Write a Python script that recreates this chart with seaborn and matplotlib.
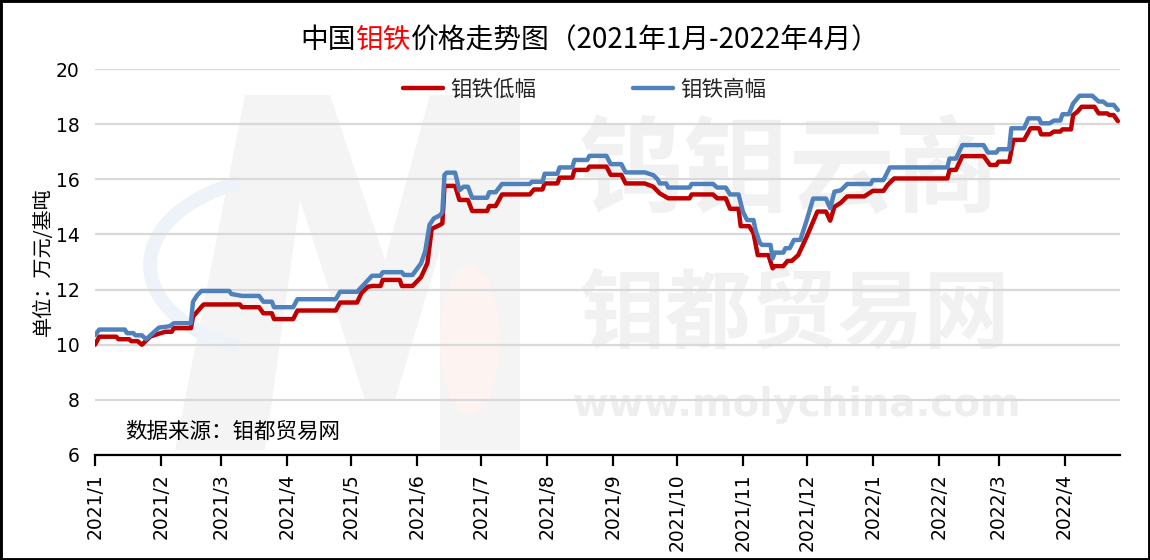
import matplotlib
matplotlib.use("Agg")
import matplotlib.pyplot as plt
import matplotlib.dates as mdates
from matplotlib.ticker import FuncFormatter
from matplotlib.patches import Rectangle, Polygon, Ellipse, Arc
import pandas as pd
import seaborn as sns

# ---------------- data ----------------
low_dates = [
    "2021-01-01", "2021-01-03", "2021-01-11", "2021-01-12", "2021-01-17", "2021-01-18",
    "2021-01-21", "2021-01-23", "2021-01-27", "2021-01-31", "2021-02-03", "2021-02-06",
    "2021-02-07", "2021-02-15", "2021-02-16", "2021-02-18", "2021-02-20", "2021-02-21",
    "2021-03-10", "2021-03-11", "2021-03-19", "2021-03-21", "2021-03-25", "2021-03-26",
    "2021-04-04", "2021-04-06", "2021-04-24", "2021-04-26", "2021-05-04", "2021-05-06",
    "2021-05-09", "2021-05-11", "2021-05-15", "2021-05-16", "2021-05-24", "2021-05-25",
    "2021-05-30", "2021-06-03", "2021-06-06", "2021-06-08", "2021-06-12", "2021-06-13",
    "2021-06-14", "2021-06-19", "2021-06-21", "2021-06-25", "2021-06-27", "2021-07-04",
    "2021-07-05", "2021-07-08", "2021-07-11", "2021-07-24", "2021-07-26", "2021-07-30",
    "2021-07-31", "2021-08-06", "2021-08-07", "2021-08-13", "2021-08-14", "2021-08-20",
    "2021-08-21", "2021-08-29", "2021-08-31", "2021-09-05", "2021-09-07", "2021-09-16",
    "2021-09-20", "2021-09-23", "2021-09-27", "2021-10-07", "2021-10-08", "2021-10-18",
    "2021-10-20", "2021-10-24", "2021-10-26", "2021-10-30", "2021-10-31", "2021-11-04",
    "2021-11-06", "2021-11-08", "2021-11-13", "2021-11-15", "2021-11-16", "2021-11-20",
    "2021-11-22", "2021-11-24", "2021-11-27", "2021-12-01", "2021-12-06", "2021-12-10",
    "2021-12-12", "2021-12-14", "2021-12-17", "2021-12-20", "2021-12-28", "2022-01-01",
    "2022-01-06", "2022-01-08", "2022-01-11", "2022-02-05", "2022-02-06", "2022-02-09",
    "2022-02-12", "2022-02-22", "2022-02-25", "2022-02-28", "2022-03-01", "2022-03-06",
    "2022-03-08", "2022-03-13", "2022-03-16", "2022-03-20", "2022-03-21", "2022-03-25",
    "2022-03-27", "2022-03-30", "2022-03-31", "2022-04-04", "2022-04-05", "2022-04-07",
    "2022-04-09", "2022-04-15", "2022-04-17", "2022-04-21", "2022-04-22", "2022-04-24",
    "2022-04-26",
]
low_vals = [
    10.00, 10.29, 10.29, 10.20, 10.20, 10.13,
    10.13, 10.00, 10.30, 10.40, 10.47, 10.47,
    10.60, 10.60, 11.02, 11.20, 11.38, 11.46,
    11.46, 11.36, 11.36, 11.14, 11.14, 10.93,
    10.93, 11.24, 11.24, 11.53, 11.53, 11.87,
    12.10, 12.13, 12.13, 12.35, 12.35, 12.13,
    12.13, 12.45, 12.96, 14.20, 14.35, 14.40,
    15.76, 15.76, 15.25, 15.25, 14.85, 14.85,
    15.03, 15.03, 15.45, 15.45, 15.63, 15.63,
    15.85, 15.85, 16.06, 16.06, 16.34, 16.34,
    16.46, 16.46, 16.16, 16.16, 15.85, 15.85,
    15.73, 15.49, 15.31, 15.31, 15.45, 15.45,
    15.31, 15.31, 14.93, 14.93, 14.30, 14.30,
    14.05, 13.25, 13.25, 12.77, 12.85, 12.85,
    13.04, 13.04, 13.25, 13.92, 14.83, 14.83,
    14.50, 15.00, 15.15, 15.38, 15.38, 15.58,
    15.58, 15.80, 16.03, 16.03, 16.34, 16.34,
    16.84, 16.84, 16.52, 16.52, 16.64, 16.64,
    17.43, 17.43, 17.85, 17.85, 17.63, 17.63,
    17.73, 17.73, 17.81, 17.81, 18.33, 18.45,
    18.63, 18.63, 18.39, 18.39, 18.33, 18.33,
    18.11,
]

high_dates = [
    "2021-01-01", "2021-01-03", "2021-01-15", "2021-01-16", "2021-01-19", "2021-01-20",
    "2021-01-23", "2021-01-25", "2021-01-31", "2021-02-05", "2021-02-07", "2021-02-15",
    "2021-02-16", "2021-02-18", "2021-02-20", "2021-03-05", "2021-03-06", "2021-03-11",
    "2021-03-19", "2021-03-21", "2021-03-25", "2021-03-26", "2021-04-04", "2021-04-06",
    "2021-04-24", "2021-04-26", "2021-05-04", "2021-05-11", "2021-05-15", "2021-05-16",
    "2021-05-25", "2021-05-26", "2021-05-30", "2021-06-03", "2021-06-05", "2021-06-07",
    "2021-06-09", "2021-06-12", "2021-06-13", "2021-06-14", "2021-06-15", "2021-06-19",
    "2021-06-21", "2021-06-23", "2021-06-25", "2021-06-27", "2021-07-04", "2021-07-05",
    "2021-07-08", "2021-07-11", "2021-07-24", "2021-07-25", "2021-07-30", "2021-07-31",
    "2021-08-06", "2021-08-07", "2021-08-13", "2021-08-14", "2021-08-20", "2021-08-21",
    "2021-08-29", "2021-08-31", "2021-09-05", "2021-09-07", "2021-09-16", "2021-09-20",
    "2021-09-22", "2021-09-23", "2021-09-26", "2021-09-27", "2021-10-07", "2021-10-08",
    "2021-10-18", "2021-10-20", "2021-10-24", "2021-10-26", "2021-10-30", "2021-11-01",
    "2021-11-03", "2021-11-06", "2021-11-07", "2021-11-09", "2021-11-10", "2021-11-14",
    "2021-11-15", "2021-11-16", "2021-11-20", "2021-11-21", "2021-11-23", "2021-11-25",
    "2021-11-28", "2021-12-01", "2021-12-04", "2021-12-10", "2021-12-12", "2021-12-14",
    "2021-12-17", "2021-12-20", "2021-12-31", "2022-01-01", "2022-01-06", "2022-01-09",
    "2022-02-05", "2022-02-06", "2022-02-09", "2022-02-12", "2022-02-22", "2022-02-24",
    "2022-02-28", "2022-03-01", "2022-03-06", "2022-03-07", "2022-03-13", "2022-03-15",
    "2022-03-20", "2022-03-21", "2022-03-25", "2022-03-27", "2022-03-30", "2022-03-31",
    "2022-04-03", "2022-04-05", "2022-04-08", "2022-04-14", "2022-04-17", "2022-04-19",
    "2022-04-21", "2022-04-24", "2022-04-26",
]
high_vals = [
    10.35, 10.55, 10.55, 10.42, 10.42, 10.34,
    10.34, 10.20, 10.62, 10.67, 10.78, 10.78,
    11.56, 11.80, 11.95, 11.95, 11.84, 11.77,
    11.77, 11.56, 11.56, 11.36, 11.36, 11.65,
    11.65, 11.92, 11.92, 12.50, 12.50, 12.63,
    12.63, 12.53, 12.53, 12.95, 13.40, 14.35,
    14.58, 14.70, 14.80, 16.16, 16.24, 16.24,
    15.60, 15.73, 15.73, 15.33, 15.33, 15.53,
    15.53, 15.83, 15.83, 15.91, 15.91, 16.20,
    16.20, 16.43, 16.43, 16.70, 16.70, 16.85,
    16.85, 16.55, 16.55, 16.25, 16.25, 16.15,
    16.00, 15.85, 15.85, 15.70, 15.70, 15.83,
    15.83, 15.70, 15.70, 15.45, 15.45, 14.83,
    14.52, 14.52, 14.15, 13.69, 13.62, 13.62,
    13.13, 13.34, 13.34, 13.50, 13.50, 13.80,
    13.80, 14.52, 15.30, 15.30, 14.95, 15.55,
    15.60, 15.83, 15.83, 15.97, 15.97, 16.43,
    16.43, 16.75, 16.75, 17.24, 17.24, 16.97,
    16.97, 17.09, 17.09, 17.85, 17.85, 18.21,
    18.21, 18.03, 18.03, 18.13, 18.13, 18.36,
    18.36, 18.75, 19.03, 19.03, 18.82, 18.82,
    18.70, 18.70, 18.51,
]

series_names = ["钼铁低幅", "钼铁高幅"]
series_colors = ["#C00000", "#4F81BD"]
y_ticks = [6, 8, 10, 12, 14, 16, 18, 20]
title_parts = ["中国", "钼铁", "价格走势图（2021年1月-2022年4月）"]
y_label = "单位：万元/基吨"
source_text = "数据来源：钼都贸易网"
watermark_lines = ["钨钼云商", "钼都贸易网", "www.molychina.com"]

# ---------------- style ----------------
sns.set_theme(style="white")
plt.rcParams["font.family"] = ["DejaVu Sans", "Noto Sans CJK SC"]
plt.rcParams["axes.unicode_minus"] = False
CJK = ["Noto Sans CJK SC", "DejaVu Sans"]

W, H = 1150, 560
fig = plt.figure(figsize=(W / 100, H / 100), dpi=100)
fig.patch.set_facecolor("white")
ax = fig.add_axes([95 / W, 1 - 455 / H, 1025 / W, 386 / H])
ax.set_facecolor("white")


def fp(x, y):
    """figure pixel (from top-left) -> figure fraction"""
    return (x / W, 1 - y / H)


# ---- faint background logo / watermark (inside the axes, under the grid) ----
logo_pts = [fp(175, 450), fp(245, 95), fp(330, 95), fp(385, 260), fp(430, 95),
            fp(520, 95), fp(520, 450), fp(440, 450), fp(440, 250), fp(395, 400),
            fp(365, 400), fp(300, 200), fp(265, 450)]
ax.add_patch(Polygon(logo_pts, closed=True, transform=fig.transFigure,
                     facecolor="#f4f4f4", edgecolor="none", zorder=0.1, clip_on=False))
ax.add_patch(Arc(fp(300, 265), 300 / W, 180 / H, angle=0, theta1=110, theta2=250,
                 transform=fig.transFigure, color="#eef3fa", linewidth=10,
                 zorder=0.15, clip_on=False))
ax.add_patch(Ellipse(fp(470, 340), 60 / W, 150 / H, transform=fig.transFigure,
                     facecolor="#fdf3f1", edgecolor="none", zorder=0.15, clip_on=False))

wm = "#f1f1f1"
ax.text(*fp(790, 172), watermark_lines[0], family=CJK, fontsize=76, fontweight="bold",
        color=wm, ha="center", va="center", zorder=0.2, transform=fig.transFigure)
ax.text(*fp(795, 315), watermark_lines[1], family=CJK, fontsize=62, fontweight="bold",
        color=wm, ha="center", va="center", zorder=0.2, transform=fig.transFigure)
ax.text(*fp(797, 405), watermark_lines[2], fontsize=28, fontweight="bold",
        color="#eeeeee", ha="center", va="center", zorder=0.2, transform=fig.transFigure)

# ---- data lines ----
df_low = pd.DataFrame({"date": pd.to_datetime(low_dates), "price": low_vals})
df_high = pd.DataFrame({"date": pd.to_datetime(high_dates), "price": high_vals})

sns.lineplot(data=df_low, x="date", y="price", color=series_colors[0], linewidth=3.2,
             label=series_names[0], ax=ax, zorder=3)
sns.lineplot(data=df_high, x="date", y="price", color=series_colors[1], linewidth=3.2,
             label=series_names[1], ax=ax, zorder=4)

ax.set_xlim(pd.Timestamp("2021-01-01"), pd.Timestamp("2022-04-27"))
ax.set_ylim(6, 20)
ax.set_yticks(y_ticks)
ax.set_xlabel("")
ax.set_ylabel("")

ax.grid(axis="y", color="#d9d9d9", linewidth=1.6, zorder=1)
ax.grid(axis="x", visible=False)
for s in ["left", "top", "right"]:
    ax.spines[s].set_visible(False)
ax.spines["bottom"].set_color("black")
ax.spines["bottom"].set_linewidth(1.6)
ax.spines["bottom"].set_zorder(5)

ax.xaxis.set_major_locator(mdates.MonthLocator())
ax.xaxis.set_major_formatter(FuncFormatter(
    lambda v, p: f"{mdates.num2date(v).year}/{mdates.num2date(v).month}"))
ax.tick_params(axis="x", bottom=True, direction="out", length=8, width=1.6,
               color="black", labelsize=13.5, labelcolor="black", labelrotation=90, pad=5)
ax.tick_params(axis="y", left=False, length=0, labelsize=13.5, labelcolor="black", pad=11)

leg = ax.legend(loc="center", bbox_to_anchor=(0.478, 0.9456), ncol=2, frameon=False,
                handlelength=1.85, handletextpad=0.35, columnspacing=4.5,
                prop={"family": CJK, "size": 15.5})
leg.set_zorder(6)

# ---- title with the red part ----
t1 = fig.text(*fp(300, 40), title_parts[0], family=CJK, fontsize=20,
              ha="left", va="center", color="black")
t2 = ax.annotate(title_parts[1], xy=(1, 0.5), xycoords=t1, family=CJK, fontsize=20,
                 ha="left", va="center", color="#ff0000", annotation_clip=False)
t3 = ax.annotate(title_parts[2], xy=(1, 0.5), xycoords=t2, family=CJK, fontsize=20,
                 ha="left", va="center", color="black", annotation_clip=False)

fig.text(*fp(43, 262), y_label, family=CJK, fontsize=14.5, rotation=90,
         ha="center", va="center", color="black")
ax.text(*fp(125, 432), source_text, family=CJK, fontsize=15.5,
        ha="left", va="center", color="black", zorder=6, transform=fig.transFigure)

fig.add_artist(Rectangle((0, 0), 1, 1, transform=fig.transFigure, fill=False,
                         edgecolor="black", linewidth=3.5, zorder=10))

fig.savefig("out.png", dpi=100, facecolor="white")
